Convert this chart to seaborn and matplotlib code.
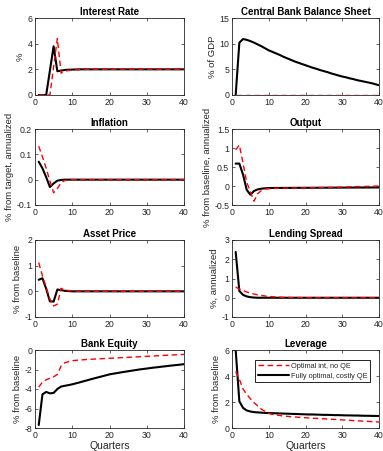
import numpy as np
import pandas as pd
import matplotlib
matplotlib.use("Agg")
import matplotlib.pyplot as plt
import seaborn as sns

sns.set_style("ticks")
plt.rcParams['font.family'] = ['Liberation Sans', 'DejaVu Sans']

quarters = list(range(1, 41))

rate_noqe = [0, 0, 0, 0, 2.2, 4.4, 1.7, 1.85, 1.92, 1.95, 1.97, 1.98, 1.99] + [2.0] * 27
rate_qe = [0, 0, 0, 1.9, 3.8, 1.85, 1.9, 1.95, 1.97, 1.98, 1.99] + [2.0] * 29

cb_noqe = [0.0] * 40
cb_qe = [0, 10.2, 10.9, 10.75, 10.5, 10.2, 9.85, 9.5, 9.1, 8.7,
         8.4, 8.1, 7.8, 7.45, 7.15, 6.85, 6.55, 6.3, 6.05, 5.8,
         5.55, 5.3, 5.1, 4.85, 4.65, 4.45, 4.2, 4.0, 3.8, 3.6,
         3.45, 3.25, 3.1, 2.9, 2.75, 2.6, 2.45, 2.3, 2.1, 1.9]

infl_noqe = [0.132, 0.09, 0.045, -0.005, -0.052, -0.035, -0.012, -0.003, -0.001] + [0.0] * 31
infl_qe = [0.071, 0.045, 0.01, -0.029, -0.015, -0.004, -0.001] + [0.0] * 33

out_noqe = [0.95, 1.08, 0.6, 0.1, -0.15, -0.4, -0.2, -0.12, -0.08, -0.07,
            -0.065, -0.06, -0.058, -0.056, -0.055, -0.054, -0.053, -0.052, -0.051, -0.05,
            -0.048, -0.046, -0.044, -0.042, -0.04, -0.038, -0.036, -0.034, -0.032, -0.03,
            -0.027, -0.024, -0.021, -0.018, -0.015, -0.012, -0.009, -0.006, -0.003, 0.0]
out_qe = [0.59, 0.59, 0.3, -0.1, -0.23, -0.13, -0.09, -0.07, -0.06, -0.055,
          -0.053, -0.052, -0.051, -0.05, -0.05, -0.049, -0.049, -0.048, -0.048, -0.047,
          -0.047, -0.046, -0.046, -0.045, -0.045, -0.044, -0.044, -0.043, -0.043, -0.042,
          -0.042, -0.041, -0.041, -0.04, -0.04, -0.04, -0.039, -0.039, -0.038, -0.038]

asset_noqe = [1.12, 0.6, 0.15, -0.3, -0.57, -0.5, 0.12, 0.05, 0.03, 0.02, 0.01] + [0.0] * 29
asset_qe = [0.45, 0.51, 0.1, -0.39, -0.4, 0.07, 0.05, 0.02, 0.01] + [0.0] * 31

spread_noqe = [0.56, 0.45, 0.38, 0.3, 0.24, 0.19, 0.15, 0.12, 0.09, 0.07,
               0.05, 0.04, 0.03, 0.02, 0.02, 0.01, 0.01, 0.01, 0.0, 0.0] + [0.0] * 20
spread_qe = [2.38, 0.35, 0.15, 0.07, 0.03, 0.01] + [0.0] * 34

equity_noqe = [-3.8, -3.3, -3.05, -2.9, -2.75, -2.5, -1.65, -1.3, -1.2, -1.1,
               -1.06, -1.03, -1.0, -0.97, -0.95, -0.93, -0.91, -0.89, -0.87, -0.85,
               -0.83, -0.81, -0.79, -0.77, -0.75, -0.73, -0.71, -0.69, -0.67, -0.65,
               -0.63, -0.61, -0.59, -0.57, -0.55, -0.53, -0.51, -0.49, -0.47, -0.45]
equity_qe = [-7.7, -4.55, -4.3, -4.45, -4.4, -4.0, -3.75, -3.67, -3.6, -3.52,
             -3.42, -3.32, -3.21, -3.11, -3.0, -2.9, -2.8, -2.7, -2.6, -2.5,
             -2.43, -2.37, -2.3, -2.24, -2.18, -2.12, -2.06, -2.0, -1.95, -1.9,
             -1.85, -1.8, -1.76, -1.71, -1.67, -1.62, -1.58, -1.54, -1.5, -1.45]

lev_noqe = [4.35, 3.75, 3.0, 2.6, 2.25, 1.95, 1.7, 1.45, 1.28, 1.12,
            1.05, 1.0, 0.96, 0.92, 0.9, 0.87, 0.85, 0.83, 0.81, 0.79,
            0.77, 0.75, 0.74, 0.72, 0.71, 0.69, 0.67, 0.66, 0.64, 0.62,
            0.61, 0.59, 0.57, 0.56, 0.54, 0.52, 0.51, 0.49, 0.48, 0.46]
lev_qe = [6.0, 2.05, 1.55, 1.35, 1.27, 1.22, 1.2, 1.18, 1.16, 1.15,
          1.14, 1.13, 1.12, 1.11, 1.10, 1.09, 1.08, 1.07, 1.06, 1.05,
          1.04, 1.04, 1.03, 1.02, 1.01, 1.01, 1.0, 0.99, 0.99, 0.98,
          0.97, 0.97, 0.96, 0.96, 0.95, 0.94, 0.94, 0.93, 0.93, 0.92]

label_noqe = "Optimal int, no QE"
label_qe = "Fully optimal, costly QE"

panels = [
    ("Interest Rate", "%", rate_noqe, rate_qe, (0, 6), [0, 2, 4, 6]),
    ("Central Bank Balance Sheet", "% of GDP", cb_noqe, cb_qe, (0, 15), [0, 5, 10, 15]),
    ("Inflation", "% from target, annualized", infl_noqe, infl_qe, (-0.1, 0.2), [-0.1, 0, 0.1, 0.2]),
    ("Output", "% from baseline, annualized", out_noqe, out_qe, (-0.5, 1.5), [-0.5, 0, 0.5, 1, 1.5]),
    ("Asset Price", "% from baseline", asset_noqe, asset_qe, (-1, 2), [-1, 0, 1, 2]),
    ("Lending Spread", "%, annualized", spread_noqe, spread_qe, (-1, 3), [-1, 0, 1, 2, 3]),
    ("Bank Equity", "% from baseline", equity_noqe, equity_qe, (-8, 0), [-8, -6, -4, -2, 0]),
    ("Leverage", "% from baseline", lev_noqe, lev_qe, (0, 6), [0, 2, 4, 6]),
]

W, H = 383, 451
fig = plt.figure(figsize=(W / 100, H / 100), dpi=100)
cols = [(35, 184), (232, 379)]
rows = [(18, 95), (129, 205), (240, 317), (350, 428)]

fc = "#262626"
for i, (title, ylab, noqe, qe, ylim, yt) in enumerate(panels):
    r, c = divmod(i, 2)
    x0, x1 = cols[c]
    y0, y1 = rows[r]
    ax = fig.add_axes([x0 / W, 1 - y1 / H, (x1 - x0) / W, (y1 - y0) / H])
    sns.lineplot(x=quarters, y=noqe, ax=ax, color="red", linewidth=1.0,
                 linestyle=(0, (4, 2.5)), label=label_noqe, zorder=3)
    sns.lineplot(x=quarters, y=qe, ax=ax, color="black", linewidth=1.5,
                 label=label_qe, zorder=2)
    ax.set_xlim(0, 40)
    ax.set_ylim(*ylim)
    ax.set_xticks([0, 10, 20, 30, 40])
    ax.set_yticks(yt)
    ax.set_yticklabels([f"{v:g}" for v in yt])
    ax.tick_params(direction="in", length=2.5, width=0.5, labelsize=6.3,
                   colors=fc, top=True, right=True, pad=2)
    for s in ax.spines.values():
        s.set_visible(True)
        s.set_linewidth(0.6)
        s.set_color(fc)
    ax.set_title(title, fontsize=7, fontweight="bold", pad=2, color="black")
    ax.set_ylabel(ylab, fontsize=6.8, color=fc, labelpad=2)
    if r == 3:
        ax.set_xlabel("Quarters", fontsize=7.5, color=fc, labelpad=1)
    else:
        ax.set_xlabel("")
    if i == 7:
        leg = ax.legend(loc="upper right", bbox_to_anchor=(0.965, 0.915), fontsize=5.3,
                        frameon=True, fancybox=False, edgecolor="black", framealpha=1,
                        handlelength=4.2, borderpad=0.35, labelspacing=0.35,
                        handletextpad=0.3)
        leg.get_frame().set_linewidth(0.6)
    else:
        lg = ax.get_legend()
        if lg is not None:
            lg.remove()

fig.savefig("out.png", dpi=100)
